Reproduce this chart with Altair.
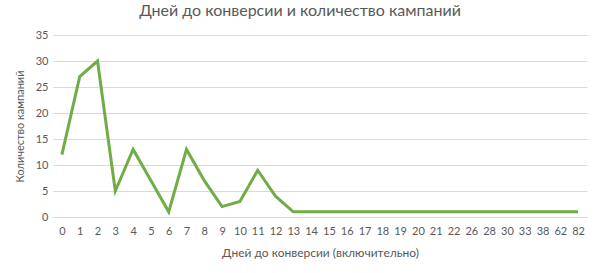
import altair as alt
import pandas as pd

days = ["0", "1", "2", "3", "4", "5", "6", "7", "8", "9", "10", "11", "12", "13", "14",
        "15", "16", "17", "18", "19", "20", "21", "22", "26", "28", "30", "33", "38", "62", "82"]
counts = [12, 27, 30, 5, 13, 7, 1, 13, 7, 2, 3, 9, 4, 1, 1,
          1, 1, 1, 1, 1, 1, 1, 1, 1, 1, 1, 1, 1, 1, 1]

df = pd.DataFrame({"day": days, "count": counts})

FONT = "Lato"
GREY = "#595959"

chart = alt.Chart(df).mark_line(color="#70AD47", strokeWidth=3, strokeJoin="miter").encode(
    x=alt.X("day:N", sort=days, title="Дней до конверсии (включительно)",
            scale=alt.Scale(type="point", padding=0.5),
            axis=alt.Axis(labelAngle=0, ticks=False, domainColor="#D9D9D9", grid=False,
                          labelColor=GREY, labelFontSize=11, labelFont=FONT, labelPadding=8,
                          titleColor=GREY, titleFontSize=12, titleFont=FONT,
                          titleFontWeight="normal", titlePadding=11)),
    y=alt.Y("count:Q", title="Количество кампаний",
            scale=alt.Scale(domain=[0, 35], nice=False),
            axis=alt.Axis(values=[0, 5, 10, 15, 20, 25, 30, 35], ticks=False, domain=False,
                          gridColor="#D9D9D9", labelColor=GREY, labelFontSize=11,
                          labelFont=FONT, labelPadding=5,
                          titleColor=GREY, titleFontSize=11, titleFont=FONT,
                          titleFontWeight="normal", titlePadding=10)),
).properties(
    width=534, height=182,
    title=alt.TitleParams("Дней до конверсии и количество кампаний", font=FONT, fontSize=16,
                          fontWeight="normal", color=GREY, anchor="middle", dx=-20, offset=10),
    autosize=alt.AutoSizeParams(type="none"),
    padding={"left": 53, "top": 35, "right": 13, "bottom": 56},
).configure_view(stroke=None)

chart.save("out.html", embed_options={"renderer": "svg", "actions": False})
